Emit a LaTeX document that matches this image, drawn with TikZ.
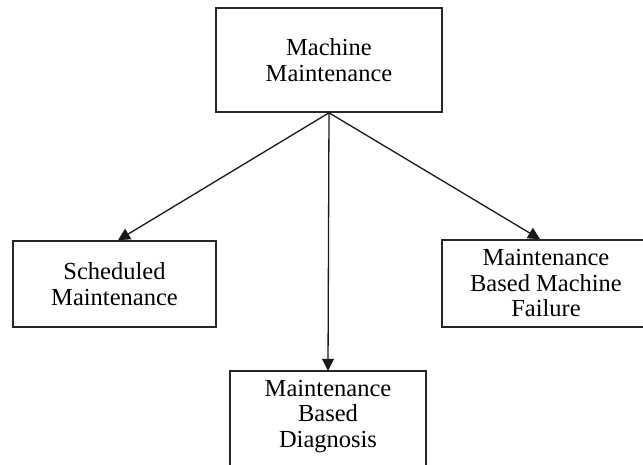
\documentclass[tikz,border=0pt]{standalone}
\usepackage{fontspec}
\setmainfont{Liberation Serif}
\usetikzlibrary{arrows.meta}
\begin{document}
\begin{tikzpicture}[x=1pt,y=-1pt,
  label text/.style={align=center, inner sep=0pt, font=\fontsize{24.5}{25.5}\selectfont},
  box/.style={label text, draw=black!85, line width=1.6pt},
  frame/.style={draw=black!85, line width=1.6pt},
  arr/.style={draw=black!90, line width=1.3pt, -{Triangle[length=12pt,width=12pt]}}]
\useasboundingbox (0,0) rectangle (643,465);
\clip (0,0) rectangle (643,465);
\fill[white] (0,0) rectangle (643,465);

% root of the tree
\node[box, minimum width=226pt, minimum height=104pt] (mm) at (329,60) {Machine\\Maintenance};

% three kinds of maintenance
\node[box, minimum width=203pt, minimum height=86pt] (sched) at (114.5,284) {Scheduled\\Maintenance};
\node[box, minimum width=208pt, minimum height=87pt] (fail) at (546,283.5) {Maintenance\\Based Machine\\Failure};
\node[label text, minimum width=196pt, minimum height=91pt] (diag) at (328,416.5) {Maintenance\\Based\\Diagnosis};
\draw[frame] ([yshift=-40pt]diag.south west) -- (diag.north west)
  -- (diag.north east) -- ([yshift=-40pt]diag.south east);

% connectors
\draw[arr] (mm.south) -- ([xshift=3.5pt]sched.north);
\draw[arr] (mm.south) -- (diag.north);
\draw[arr] (mm.south) -- ([xshift=-6pt]fail.north);
\end{tikzpicture}
\end{document}
